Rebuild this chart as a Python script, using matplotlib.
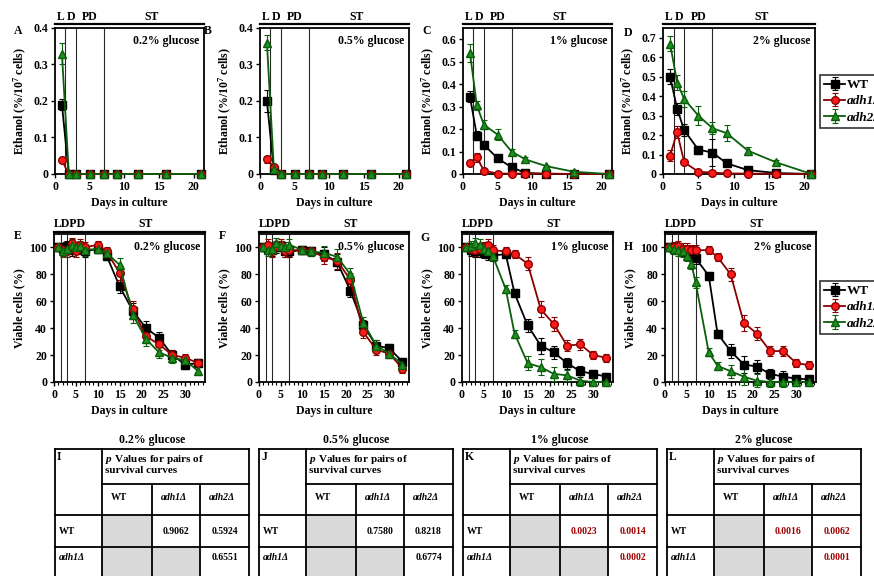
import matplotlib.pyplot as plt
from matplotlib.patches import Rectangle
from matplotlib.ticker import MultipleLocator

plt.rcParams['font.family'] = ['Liberation Serif', 'DejaVu Serif']
plt.rcParams['font.weight'] = 'bold'
plt.rcParams['axes.labelweight'] = 'bold'
plt.rcParams['mathtext.fontset'] = 'custom'
plt.rcParams['mathtext.rm'] = 'Liberation Serif:bold'
plt.rcParams['mathtext.it'] = 'Liberation Serif:italic:bold'
plt.rcParams['mathtext.bf'] = 'Liberation Serif:bold'

W, H = 874, 576

# ---- data ----
glucose = ['0.2% glucose', '0.5% glucose', '1% glucose', '2% glucose']
strains = ['WT', 'adh1Δ', 'adh2Δ']

eth_days = [1, 2, 3, 5, 7, 9, 12, 16, 21]
eth_wt = [
    [0.19, 0, 0, 0, 0, 0, 0, 0, 0],
    [0.20, 0.01, 0, 0, 0, 0, 0, 0, 0],
    [0.345, 0.17, 0.13, 0.07, 0.03, 0.005, 0, 0, 0],
    [0.50, 0.335, 0.225, 0.125, 0.11, 0.055, 0.02, 0.005, 0],
]
eth_wt_err = [
    [0.015, 0, 0, 0, 0, 0, 0, 0, 0],
    [0.03, 0.005, 0, 0, 0, 0, 0, 0, 0],
    [0.025, 0.02, 0.015, 0.01, 0.005, 0.003, 0, 0, 0],
    [0.04, 0.03, 0.03, 0.02, 0.07, 0.01, 0.005, 0, 0],
]
eth_adh1 = [
    [0.037, 0, 0, 0, 0, 0, 0, 0, 0],
    [0.04, 0.02, 0, 0, 0, 0, 0, 0, 0],
    [0.05, 0.075, 0.015, 0.002, 0.002, 0.002, 0.002, 0, 0],
    [0.095, 0.215, 0.06, 0.012, 0.007, 0.003, 0.002, 0.001, 0],
]
eth_adh1_err = [
    [0.005, 0, 0, 0, 0, 0, 0, 0, 0],
    [0.01, 0.005, 0, 0, 0, 0, 0, 0, 0],
    [0.01, 0.02, 0.005, 0, 0, 0, 0, 0, 0],
    [0.03, 0.03, 0.01, 0.005, 0, 0, 0, 0, 0],
]
eth_adh2 = [
    [0.33, 0, 0, 0, 0, 0, 0, 0, 0],
    [0.36, 0.015, 0, 0, 0, 0, 0, 0, 0],
    [0.54, 0.305, 0.22, 0.175, 0.10, 0.065, 0.035, 0.01, 0],
    [0.67, 0.47, 0.385, 0.30, 0.235, 0.21, 0.12, 0.06, 0],
]
eth_adh2_err = [
    [0.03, 0, 0, 0, 0, 0, 0, 0, 0],
    [0.02, 0.005, 0, 0, 0, 0, 0, 0, 0],
    [0.04, 0.02, 0.02, 0.025, 0.01, 0.01, 0.005, 0.003, 0],
    [0.04, 0.04, 0.04, 0.05, 0.03, 0.04, 0.02, 0.01, 0],
]
eth_ymax = [0.4, 0.4, 0.65, 0.75]

via_days = [1, 2, 3, 4, 5, 6, 7, 10, 12, 15, 18, 21, 24, 27, 30, 33]
via_wt = [
    [100, 99, 101, 98, 100, 99, 97, 99, 94, 71, 53, 40, 33, 20, 13, 14],
    [100, 99, 98, 100, 101, 97, 97, 98, 97, 95, 89, 68, 42, 27, 25, 15],
    [100, 98, 97, 97, 96, 95, 94, 95, 66, 42, 27, 22, 14, 8, 6, 4],
    [100, 99, 99, 98, 97, 97, 92, 79, 36, 23, 13, 11.5, 6, 4, 2.5, 2],
]
via_adh1 = [
    [100, 98, 97, 103, 97, 102, 100, 102, 97, 81, 54, 34, 28, 20, 18, 14],
    [100, 102, 97, 101, 102, 97, 98, 98, 97, 93, 90, 76, 37, 24, 21, 10],
    [100, 99, 98, 99, 100, 102, 98, 97, 95, 88, 54, 43, 27, 28, 20, 18],
    [100, 100, 101, 99, 99, 98, 98, 98, 93, 80, 44, 36, 23, 23, 14, 12.5],
]
via_adh2 = [
    [100, 97, 99, 102, 100, 101, 98, 99, 96, 87, 50, 32, 22, 18, 16, 8],
    [100, 98, 99, 103, 101, 100, 102, 98, 97, 96, 93, 80, 44, 27, 21, 13],
    [100, 101, 103, 102, 99, 97, 94, 69, 36, 14, 11, 6, 5, 1, 0, 0],
    [100, 99, 98, 97, 94, 88, 74, 22, 12, 8, 4, 1, 0, 0, 0, 0],
]
via_err = [3, 4, 4, 4, 4, 4, 4, 3, 3, 5, 6, 5, 4, 4, 3, 3]

p_wt_adh1 = ['0.9062', '0.7580', '0.0023', '0.0016']
p_wt_adh2 = ['0.5924', '0.8218', '0.0014', '0.0062']
p_adh1_adh2 = ['0.6551', '0.6774', '0.0002', '0.0001']
p_signif = [False, False, True, True]

letters_top = ['A', 'B', 'C', 'D']
letters_mid = ['E', 'F', 'G', 'H']
letters_tab = ['I', 'J', 'K', 'L']

# ---- styles ----
styles = [
    dict(color='black', marker='s', mfc='black', mec='black', ecolor='black'),
    dict(color='#8b0000', marker='o', mfc='#ff1a1a', mec='#8b0000', ecolor='#8b0000'),
    dict(color='#0b5e0b', marker='^', mfc='#1f8f1f', mec='#0b5e0b', ecolor='#0b5e0b'),
]

fig = plt.figure(figsize=(W / 100, H / 100), dpi=100)

# background overlay for tables and letters
bg = fig.add_axes([0, 0, 1, 1])
bg.set_xlim(0, W)
bg.set_ylim(H, 0)
bg.axis('off')


def px_axes(l, t, r, b):
    return fig.add_axes([l / W, 1 - b / H, (r - l) / W, (b - t) / H])


top_boxes = [(55, 28, 204, 174), (260, 28, 409, 174), (463, 28, 612, 174), (663, 28, 815, 174)]
mid_boxes = [(54, 234, 205, 382), (259, 234, 409, 382), (462, 234, 613, 382), (665, 234, 816, 382)]
top_letter_pos = [(18, 31), (208, 31), (427, 31), (628, 33)]
mid_letter_pos = [(18, 236), (222, 236), (425, 238), (628, 247)]


def style_axes(ax):
    for s in ax.spines.values():
        s.set_linewidth(1.3)
    ax.tick_params(direction='out', length=3, width=1, labelsize=8.5, pad=2)


def header(ax, labels, line_y, text_y):
    tr = ax.get_xaxis_transform()
    ax.plot([0, 1], [line_y, line_y], transform=ax.transAxes, color='black',
            lw=1.6, clip_on=False)
    for x, lab in labels:
        ax.text(x, text_y, lab, transform=tr, ha='center', va='center',
                fontsize=8.5, fontweight='bold')


handles = []
for i in range(4):
    ax = px_axes(*top_boxes[i])
    style_axes(ax)
    for x in (1.5, 3, 7):
        ax.axvline(x, color='0.15', lw=0.8, zorder=1)
    series = [(eth_wt[i], eth_wt_err[i]), (eth_adh1[i], eth_adh1_err[i]), (eth_adh2[i], eth_adh2_err[i])]
    for k, (vals, errs) in enumerate(series):
        st = styles[k]
        eb = ax.errorbar(eth_days, vals, yerr=errs, color=st['color'], marker=st['marker'],
                         mfc=st['mfc'], mec=st['mec'], ecolor=st['ecolor'], ms=5.5, lw=1.3,
                         elinewidth=0.8, capsize=2, capthick=0.8, clip_on=False, zorder=3,
                         label=strains[k])
        if i == 3:
            handles.append(eb)
    ax.set_xlim(0, 21.5)
    ax.set_ylim(0, eth_ymax[i])
    ax.xaxis.set_major_locator(MultipleLocator(5))
    ax.yaxis.set_major_locator(MultipleLocator(0.1))
    ax.yaxis.set_major_formatter(plt.FuncFormatter(lambda v, p: '0' if abs(v) < 1e-9 else f'{v:.1f}'))
    ax.set_xlabel('Days in culture', fontsize=8.5, labelpad=3)
    ax.set_ylabel('Ethanol (%/10$^7$ cells)', fontsize=8.5, labelpad=3)
    ax.text(0.97, 0.95, glucose[i], transform=ax.transAxes, ha='right', va='top', fontsize=8.5)
    header(ax, [(0.85, 'L'), (2.25, 'D'), (5, 'PD'), (14, 'ST')], 1.027, 1.075)
    bg.text(*top_letter_pos[i], letters_top[i], fontsize=8.5, fontweight='bold', va='center', ha='center')

for i in range(4):
    ax = px_axes(*mid_boxes[i])
    style_axes(ax)
    for x in (1.5, 3, 7):
        ax.axvline(x, color='0.15', lw=0.8, zorder=1)
    series = [via_wt[i], via_adh1[i], via_adh2[i]]
    for k, vals in enumerate(series):
        st = styles[k]
        ax.errorbar(via_days, vals, yerr=via_err, color=st['color'], marker=st['marker'],
                    mfc=st['mfc'], mec=st['mec'], ecolor=st['ecolor'], ms=5.5, lw=1.3,
                    elinewidth=0.8, capsize=2, capthick=0.8, clip_on=False, zorder=3)
    ax.set_xlim(0, 34.5)
    ax.set_ylim(0, 110)
    ax.xaxis.set_major_locator(MultipleLocator(5))
    ax.xaxis.set_minor_locator(MultipleLocator(1))
    ax.yaxis.set_major_locator(MultipleLocator(20))
    ax.tick_params(which='minor', direction='out', length=2, width=0.8)
    ax.set_xlabel('Days in culture', fontsize=8.5, labelpad=3)
    ax.set_ylabel('Viable cells (%)', fontsize=8.5, labelpad=3)
    ax.text(0.97, 0.95, glucose[i], transform=ax.transAxes, ha='right', va='top', fontsize=8.5)
    header(ax, [(3.6, 'LDPD'), (21, 'ST')], 1.014, 1.065)
    bg.text(*mid_letter_pos[i], letters_mid[i], fontsize=8.5, fontweight='bold', va='center', ha='center')

for yy in (75, 281):
    leg = fig.legend(handles=handles, labels=strains, loc='upper left',
                     bbox_to_anchor=(820 / W, 1 - yy / H), fontsize=9.5, frameon=True,
                     fancybox=False, edgecolor='black', handlelength=1.6, handletextpad=0.1,
                     borderpad=0.3, labelspacing=0.3, borderaxespad=0)
    leg.get_frame().set_linewidth(1.2)
    for t in leg.get_texts()[1:]:
        t.set_fontstyle('italic')

# ---- tables ----
tab_lefts = [55, 259, 463, 667]
col_w = [47, 50, 48, 49]
row_y = [449, 484, 515, 547, 582]
gray = '#d9d9d9'
for i in range(4):
    L = tab_lefts[i]
    cx = [L]
    for w in col_w:
        cx.append(cx[-1] + w)
    tcol = '#a00000' if p_signif[i] else 'black'
    for (r, c) in [(2, 1), (3, 1), (3, 2)]:
        bg.add_patch(Rectangle((cx[c], row_y[r]), cx[c + 1] - cx[c], row_y[r + 1] - row_y[r],
                               facecolor=gray, edgecolor='none', zorder=1))
    lw = 1.3
    bg.plot([cx[0], cx[4]], [row_y[0], row_y[0]], color='black', lw=lw, clip_on=False)
    bg.plot([cx[1], cx[4]], [row_y[1], row_y[1]], color='black', lw=lw)
    for r in (2, 3):
        bg.plot([cx[0], cx[4]], [row_y[r], row_y[r]], color='black', lw=lw)
    bg.plot([cx[0], cx[0]], [row_y[0], H + 5], color='black', lw=lw)
    bg.plot([cx[1], cx[1]], [row_y[0], H + 5], color='black', lw=lw)
    for c in (2, 3):
        bg.plot([cx[c], cx[c]], [row_y[1], H + 5], color='black', lw=lw)
    bg.plot([cx[4], cx[4]], [row_y[0], H + 5], color='black', lw=lw)
    bg.text((cx[0] + cx[4]) / 2, 440, glucose[i], ha='center', va='center', fontsize=8.5)
    bg.text(cx[0] + 2, row_y[0] + 2, letters_tab[i], ha='left', va='top', fontsize=8.5)
    bg.text(cx[1] + 3, row_y[0] + 4, '$\\mathit{p}$ Values for pairs of\nsurvival curves',
            ha='left', va='top', fontsize=8, linespacing=1.05)
    for c, lab in enumerate(strains):
        bg.text(cx[c + 1] + 9, (row_y[1] + row_y[2]) / 2 - 2, lab, ha='left', va='center',
                fontsize=7, fontstyle='normal' if c == 0 else 'italic')
    bg.text(cx[0] + 4, (row_y[2] + row_y[3]) / 2, 'WT', ha='left', va='center', fontsize=7)
    bg.text(cx[0] + 4, (row_y[3] + row_y[4]) / 2 - 7, 'adh1Δ', ha='left', va='center',
            fontsize=7, fontstyle='italic')
    bg.text((cx[2] + cx[3]) / 2, (row_y[2] + row_y[3]) / 2, p_wt_adh1[i], ha='center',
            va='center', fontsize=7, color=tcol)
    bg.text((cx[3] + cx[4]) / 2, (row_y[2] + row_y[3]) / 2, p_wt_adh2[i], ha='center',
            va='center', fontsize=7, color=tcol)
    bg.text((cx[3] + cx[4]) / 2, (row_y[3] + row_y[4]) / 2 - 7, p_adh1_adh2[i], ha='center',
            va='center', fontsize=7, color=tcol)

fig.savefig('out.png', dpi=100)
